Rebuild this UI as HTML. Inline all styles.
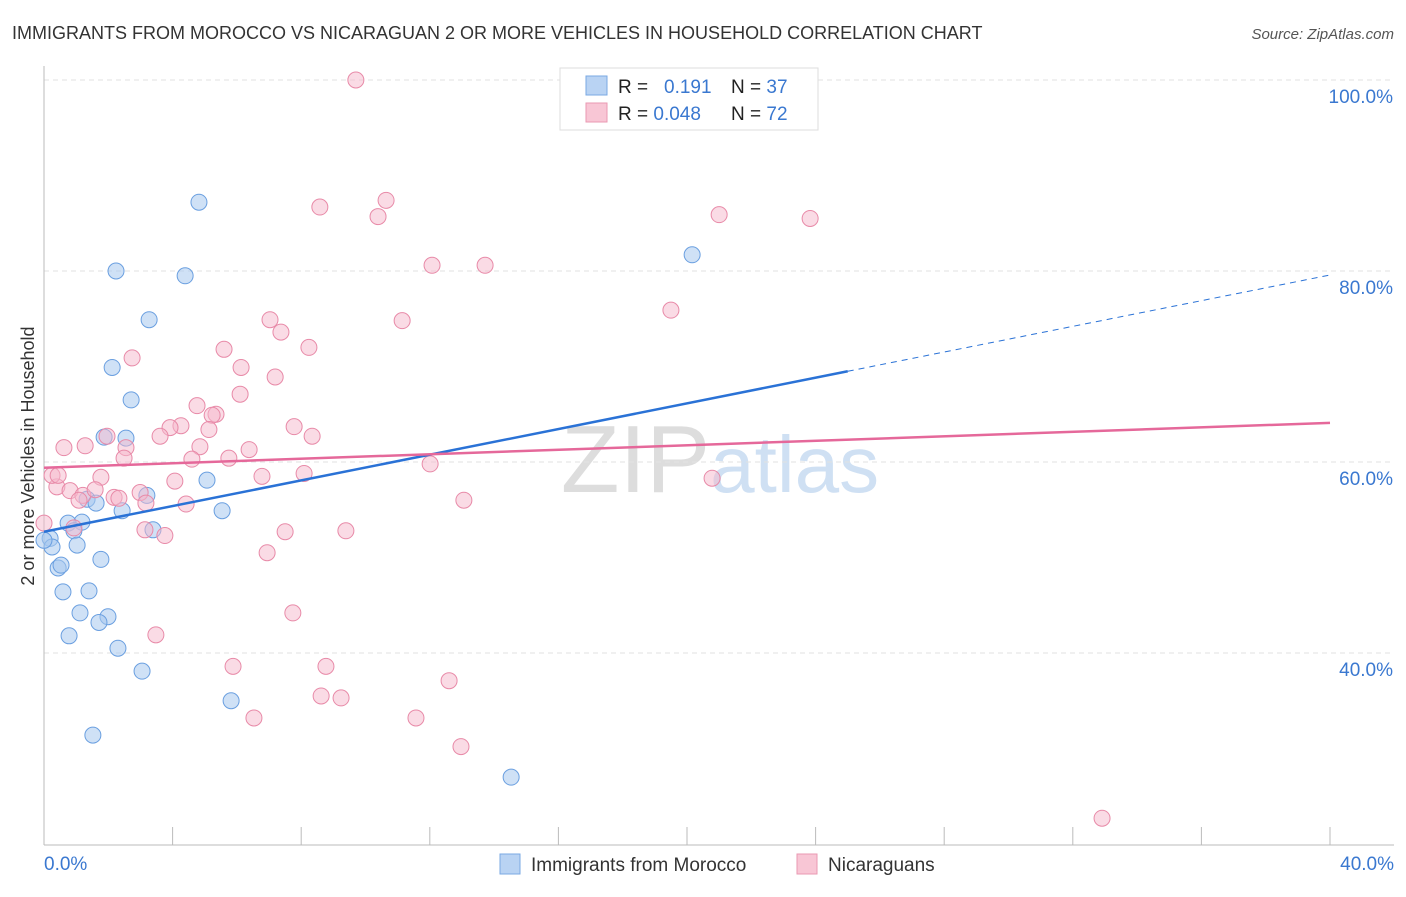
<!DOCTYPE html>
<html><head><meta charset="utf-8"><style>
body{margin:0;background:#fff;font-family:"Liberation Sans",sans-serif;}
svg text{font-family:"Liberation Sans",sans-serif;}
</style></head><body>
<svg id="chart" width="1406" height="892" xmlns="http://www.w3.org/2000/svg">
<text x="12" y="39" font-size="18" fill="#333">IMMIGRANTS FROM MOROCCO VS NICARAGUAN 2 OR MORE VEHICLES IN HOUSEHOLD CORRELATION CHART</text>
<text x="1394" y="39" font-size="15" fill="#555" font-style="italic" text-anchor="end">Source: ZipAtlas.com</text>
<text x="720" y="492" font-size="96" fill="#ddd" text-anchor="middle" font-family="Liberation Serif">ZIP<tspan fill="#cfe0f3" font-family="Liberation Sans" font-size="80">atlas</tspan></text>
<g id="grid"></g>
<g id="axes"></g>
<text transform="translate(34,456) rotate(-90)" font-size="18" fill="#333" text-anchor="middle">2 or more Vehicles in Household</text>
<g id="pts"></g>
<g id="trend"></g>
<g>
<rect x="560" y="68" width="258" height="62" fill="#fff" stroke="#ddd"/>
<rect x="586" y="76" width="21" height="19" fill="#b9d3f3" stroke="#7aa8e3"/>
<rect x="586" y="103" width="21" height="19" fill="#f8c6d5" stroke="#ea98b2"/>
<text x="618" y="93" font-size="19" fill="#222">R = <tspan x="664" fill="#3a78d0">0.191</tspan></text>
<text x="731" y="93" font-size="19" fill="#222">N = <tspan fill="#3a78d0">37</tspan></text>
<text x="618" y="120" font-size="19" fill="#222">R = <tspan fill="#3a78d0">0.048</tspan></text>
<text x="731" y="120" font-size="19" fill="#222">N = <tspan fill="#3a78d0">72</tspan></text>
</g>
<g>
<rect x="500" y="854" width="20" height="20" fill="#b9d3f3" stroke="#7aa8e3"/>
<text x="531" y="871" font-size="19" fill="#333">Immigrants from Morocco</text>
<rect x="797" y="854" width="20" height="20" fill="#f8c6d5" stroke="#ea98b2"/>
<text x="828" y="871" font-size="19" fill="#333">Nicaraguans</text>
</g>
</svg>
<script>
const xTicks=[0,4,8,12,16,20,24,28,32,36,40];
const yTicks=[40,60,80,100];
const yTickLabels=["40.0%","60.0%","80.0%","100.0%"];
const xEndLabels=["0.0%","40.0%"];
const blueX=[4.82,2.24,4.39,3.27,2.12,2.71,2.55,1.87,3.20,5.07,1.34,1.62,2.43,5.54,3.39,1.18,0.75,0.93,0.19,0.25,1.03,1.77,0.44,0.53,0.59,1.40,1.12,1.99,1.71,0.78,2.30,3.05,5.82,1.52,14.53,20.16,0.0];
const blueY=[87.2,80.0,79.5,74.9,69.9,66.5,62.5,62.6,56.5,58.1,56.1,55.7,54.9,54.9,52.9,53.7,53.6,52.8,52.0,51.1,51.3,49.8,48.9,49.2,46.4,46.5,44.2,43.8,43.2,41.8,40.5,38.1,35.0,31.4,27.0,81.7,51.8];
const pinkX=[9.70,10.64,8.58,10.39,21.0,23.83,12.07,13.72,19.50,7.03,11.14,7.37,5.60,8.24,2.74,6.13,7.19,6.10,4.76,5.35,5.23,4.26,3.92,7.78,8.34,3.61,1.96,4.85,5.13,0.62,1.28,2.55,6.38,2.49,4.60,5.75,1.77,4.07,6.78,8.09,12.01,20.78,13.06,0.40,0.81,1.21,1.59,2.18,2.99,3.17,4.42,2.33,1.09,0.25,0.44,0.93,3.14,3.76,7.50,9.39,6.94,0.0,3.48,7.74,5.88,8.77,8.62,9.24,12.60,6.53,11.57,12.97,32.91];
const pinkY=[100.0,87.4,86.7,85.7,85.9,85.5,80.6,80.6,75.9,74.9,74.8,73.6,71.8,72.0,70.9,69.9,68.9,67.1,65.9,65.0,64.9,63.8,63.6,63.7,62.7,62.7,62.7,61.6,63.4,61.5,61.7,61.5,61.3,60.4,60.3,60.4,58.4,58.0,58.5,58.8,59.8,58.3,56.0,57.4,57.0,56.5,57.1,56.3,56.8,55.7,55.6,56.2,56.0,58.6,58.6,53.1,52.9,52.3,52.7,52.8,50.5,53.6,41.9,44.2,38.6,38.6,35.5,35.3,37.1,33.2,33.2,30.2,22.7];
const blueTrend=[52.7,0.672];
const pinkTrend=[59.4,0.1175];
const NS="http://www.w3.org/2000/svg";
const X=v=>44+v*32.15;
const Y=v=>653-(v-40)*9.55;
function mk(tag,attrs,parent){const e=document.createElementNS(NS,tag);for(const k in attrs)e.setAttribute(k,attrs[k]);parent.appendChild(e);return e;}
const grid=document.getElementById('grid'),axes=document.getElementById('axes'),pts=document.getElementById('pts'),trend=document.getElementById('trend');
yTicks.forEach((t,i)=>{
 const l=mk('line',{x1:44,x2:1394,y1:Y(t),y2:Y(t),stroke:'#e2e2e2','stroke-dasharray':'5,4'},grid);
 
 
 const tx=mk('text',{x:1393,y:Y(t)+23,'font-size':19,fill:'#3a78d0','text-anchor':'end'},axes);
 tx.textContent=yTickLabels[i];
 
 
});
const ax=mk('line',{x1:44,x2:1394,y1:845,y2:845,stroke:'#bbb'},axes);


const ay=mk('line',{x1:44,x2:44,y1:66,y2:845,stroke:'#bbb'},axes);


xTicks.forEach(t=>{
 const l=mk('line',{x1:X(t),x2:X(t),y1:827,y2:845,stroke:'#bbb'},axes);
 
 
});
[[0,'start',44],[40,'end',1394]].forEach((a,i)=>{
 const tx=mk('text',{x:a[2],y:870,'font-size':19,fill:'#3a78d0','text-anchor':a[1]},axes);
 tx.textContent=xEndLabels[i];
 
 
});
blueX.forEach((x,i)=>{
 const c=mk('circle',{cx:X(x),cy:Y(blueY[i]),r:8,fill:'rgba(168,200,239,0.55)',stroke:'#6a9fe0','stroke-width':1},pts);
 
 
});
pinkX.forEach((x,i)=>{
 const c=mk('circle',{cx:X(x),cy:Y(pinkY[i]),r:8,fill:'rgba(246,184,203,0.5)',stroke:'#e88aa8','stroke-width':1},pts);
 
 
});
const bt=v=>blueTrend[0]+blueTrend[1]*v, pt=v=>pinkTrend[0]+pinkTrend[1]*v;
const b1=mk('line',{x1:X(0),y1:Y(bt(0)),x2:X(25),y2:Y(bt(25)),stroke:'#2a72d6','stroke-width':2.5},trend);


const b2=mk('line',{x1:X(25),y1:Y(bt(25)),x2:X(40),y2:Y(bt(40)),stroke:'#2a72d6','stroke-width':1,'stroke-dasharray':'6,5'},trend);


const p1=mk('line',{x1:X(0),y1:Y(pt(0)),x2:X(40),y2:Y(pt(40)),stroke:'#e5689a','stroke-width':2.5},trend);


</script>
</body></html>
